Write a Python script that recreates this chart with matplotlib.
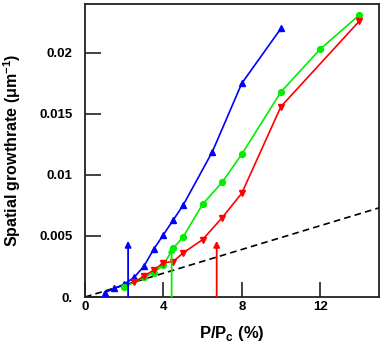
import matplotlib
matplotlib.use("Agg")
import matplotlib.pyplot as plt

plt.rcParams['font.family'] = ['Liberation Sans', 'DejaVu Sans']

blue_x = [1, 1.5, 2, 2.5, 3, 3.5, 4, 4.5, 5, 6.5, 8, 10]
blue_y = [0.00035, 0.0007, 0.00105, 0.0016, 0.0025, 0.0039, 0.0051, 0.0063, 0.0075, 0.0119, 0.0175, 0.0220]

green_x = [2, 3, 3.5, 4, 4.5, 5, 6, 7, 8, 10, 12, 14]
green_y = [0.0008, 0.0016, 0.0020, 0.0026, 0.0040, 0.0049, 0.0076, 0.0094, 0.0117, 0.0168, 0.0203, 0.0231]

red_x = [2.5, 3, 3.5, 4, 4.5, 5, 6, 7, 8, 10, 14]
red_y = [0.0012, 0.0017, 0.0022, 0.0028, 0.0029, 0.0036, 0.0047, 0.0065, 0.0085, 0.0156, 0.0226]

dash_x = [0, 15]
dash_y = [0, 0.0073]

arrow_x = [2.2, 4.42, 6.72]
arrow_top = [0.0046, 0.0042, 0.0046]
arrow_colors = ['#0000ff', '#00ee00', '#ff0000']

xticks = [0, 4, 8, 12]
xtick_labels = ['0', '4', '8', '12']
yticks = [0, 0.005, 0.01, 0.015, 0.02]
ytick_labels = ['0.', '0.005', '0.01', '0.015', '0.02']

fig = plt.figure(figsize=(3.82, 3.51), dpi=100)
ax = fig.add_axes([0.2225, 0.1538, 0.992 - 0.2225, 0.9886 - 0.1538])

ax.plot(dash_x, dash_y, color='black', lw=1.2, ls=(0, (4, 2.5)), zorder=2)
ax.plot(blue_x, blue_y, color='#0000ff', lw=1.2, marker='^', ms=4.2, zorder=3)
ax.plot(green_x, green_y, color='#00ee00', lw=1.2, marker='o', ms=4.2, zorder=3)
ax.plot(red_x, red_y, color='#ff0000', lw=1.2, marker='v', ms=4.2, zorder=3)

for xa, ya, c in zip(arrow_x, arrow_top, arrow_colors):
    ax.annotate('', xy=(xa, ya), xytext=(xa, 0),
                arrowprops=dict(arrowstyle='-|>', color=c, lw=1.3,
                                mutation_scale=9, shrinkA=0, shrinkB=0),
                zorder=4)

ax.set_xlim(0, 15)
ax.set_ylim(0, 0.024)
ax.set_xticks(xticks)
ax.set_xticklabels(xtick_labels, fontweight='bold', fontsize=9.5)
ax.set_yticks(yticks)
ax.set_yticklabels(ytick_labels, fontweight='bold', fontsize=9.5)
ax.tick_params(axis='y', direction='in', length=11.5, width=1.3, pad=9, color='#333333')
ax.tick_params(axis='x', direction='in', length=11, width=1.3, pad=3, color='#333333')

for s in ax.spines.values():
    s.set_linewidth(1.3)
    s.set_color('#222222')

ax.set_xlabel('P/P$_\\mathregular{c}$ (%)', fontweight='bold', fontsize=12, labelpad=8)
ax.set_ylabel('Spatial growthrate ($\\mathregular{\\mu}$m$^{\\mathregular{-1}}$)', fontweight='bold', fontsize=11.5, labelpad=12)

fig.savefig('out.png', dpi=100)
